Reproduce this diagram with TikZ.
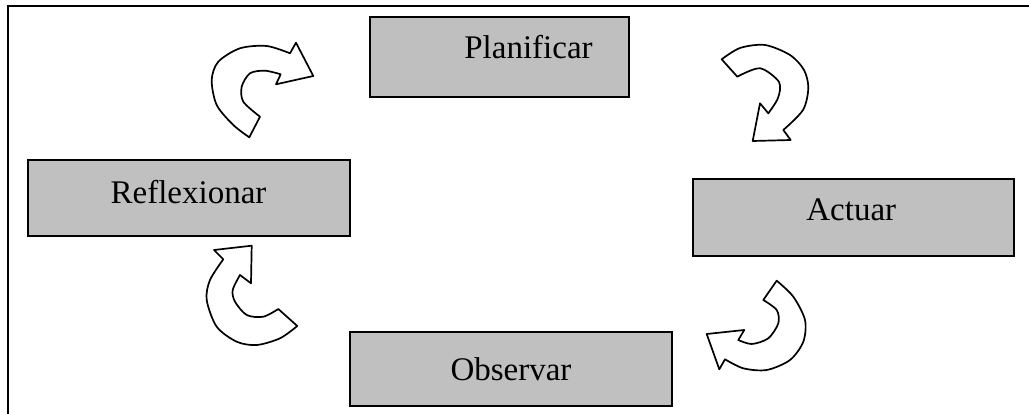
\documentclass[tikz,border=0pt]{standalone}
\usepackage{fontspec}
\setmainfont{Liberation Serif}
\definecolor{boxgray}{RGB}{192,192,192}
\definecolor{boxgrayb}{RGB}{191,191,191}
\begin{document}
\begin{tikzpicture}[x=1pt,y=-1pt,
  box/.style={draw=black, line width=1.5pt, fill=boxgray},
  lbl/.style={anchor=base, inner sep=0pt, font=\fontsize{33}{40}\selectfont},
  barrow/.style={draw=black, fill=white, line width=1.7pt, line join=round}]
\useasboundingbox (0,0) rectangle (1029,414);
% frame
\draw[line width=2pt] (1029,6) -- (8,6) -- (8,414);
% boxes
\fill[boxgrayb] (370,17) rectangle (629,97);
\draw[line width=1.5pt] (370,17) rectangle (629,97) coordinate[pos=0.5] (plan);
\filldraw[box] (28,160) rectangle (350,236) coordinate[pos=0.5] (refl);
\filldraw[box] (693,179) rectangle (1014,256) coordinate[pos=0.5] (act);
\filldraw[box] (350,332) rectangle (672,406) coordinate[pos=0.5] (obs);
% labels
\node[lbl] (planT) at (528.5,59) {Planificar};
\node[lbl] (reflT) at (188.5,203.3) {Reflexionar};
\node[lbl] (actT) at (851.3,221) {Actuar};
\node[lbl] (obsT) at (511,381) {Observar};
% curved block arrows
% Reflexionar -> Planificar
\draw[barrow] (249.3,137.3) -- (260,116.7)
  -- plot[smooth] coordinates {(260,116.7)(243.3,101.7)(241.7,86.7)(250,73.3)(265,70.7)(280.7,74.3)}
  -- (276,84.3) -- (313.3,76) -- (296,42.7) -- (290,53.3)
  -- plot[smooth] coordinates {(290,53.3)(266.7,46)(240,48.3)(218.3,61.7)(211.7,80)(216.7,105)(233.3,125)(249.3,137.3)}
  -- cycle;
% Planificar -> Actuar
\draw[barrow] (721.7,59.3)
  -- plot[smooth] coordinates {(721.7,59.3)(740,48)(765,45)(790,55)(804,70)(808.3,88)(803,110)(783.3,130)}
  -- (790.7,140) -- (752.7,141) -- (760,103.3) -- (768.3,113.3)
  -- plot[smooth] coordinates {(768.3,113.3)(778,98)(779,82)(760,68.3)(737.3,76.7)}
  -- cycle;
% Observar -> Reflexionar
\draw[barrow] (251.7,245.7) -- (214,250) -- (223.3,259.3)
  -- plot[smooth] coordinates {(223.3,259.3)(210,280)(206.7,300)(216.7,326.7)(236.7,341.7)(256.7,345)(280,338.3)(297.3,326)}
  -- (278.3,309)
  -- plot[smooth] coordinates {(278.3,309)(263.3,316.7)(246.7,315)(235,301.7)(232.7,290)(240,275)}
  -- (251,283.3) -- cycle;
% Actuar -> Observar
\draw[barrow] (776.7,280.7)
  -- plot[smooth] coordinates {(776.7,280.7)(793.3,296.7)(805,320)(803.3,341.7)(790,360)(766.7,370)(743.3,368.3)(725,359.3)}
  -- (719.3,369.3) -- (706.7,334) -- (744.3,330) -- (738.3,340)
  -- plot[smooth] coordinates {(738.3,340)(751.7,344)(768.3,338.3)(778.3,323.3)(776.7,310)(763.3,300)}
  -- cycle;
\end{tikzpicture}
\end{document}
